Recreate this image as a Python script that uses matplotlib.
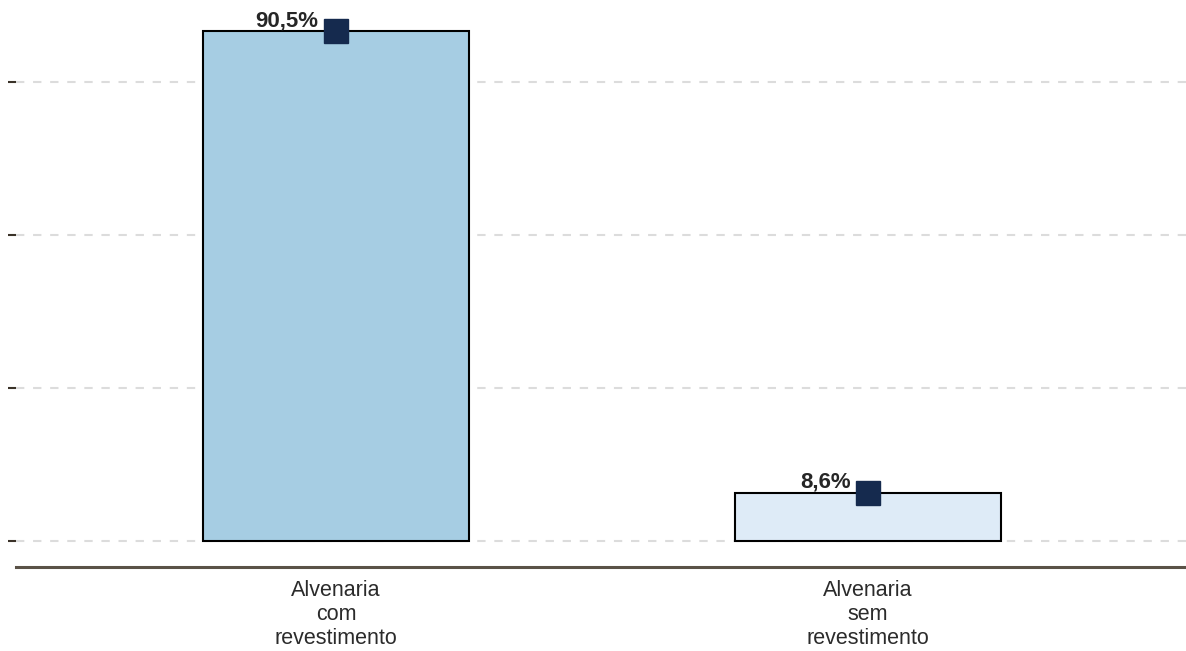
import matplotlib.pyplot as plt

plt.rcParams['font.family'] = ['Liberation Sans', 'DejaVu Sans']

# Data
categories = ['Alvenaria\ncom\nrevestimento', 'Alvenaria\nsem\nrevestimento']
values = [90.5, 8.6]
value_labels = ['90,5%', '8,6%']
bar_colors = ['#a6cde3', '#deebf7']

fig = plt.figure(figsize=(11.86, 6.51), dpi=100)
ax = fig.add_axes([16 / 1186, 1 - 567 / 651, 1 - 16 / 1186, 567 / 651])

x = list(range(len(categories)))
ax.bar(x, values, width=0.5, color=bar_colors, edgecolor='black', linewidth=1.5, zorder=3)
ax.plot(x, values, linestyle='none', marker='s', markersize=17,
        color='#152a4e', zorder=4)

for xi, v, lab in zip(x, values, value_labels):
    ax.annotate(lab, (xi, v), xytext=(-12.5, 3.5), textcoords='offset points',
                ha='right', va='baseline', fontsize=16, fontweight='bold',
                color='#262626', zorder=5)

# gridlines at fractions of the max
top = max(values)
ax.set_yticks([0, top * 0.3, top * 0.6, top * 0.9])
ax.set_yticklabels([])
ax.yaxis.grid(True, color='#dcdcdc', linestyle=(0, (4, 4.2)), linewidth=1.5, zorder=0)
ax.tick_params(axis='y', direction='out', length=6, width=1.5, color='#3a3228')
ax.set_xticks(x)
ax.set_xticklabels(categories, fontsize=15.5, color='#2b2b2b', linespacing=1.2)
ax.tick_params(axis='x', length=0, pad=9)

ax.set_xlim(-0.6015, 1.598)
ax.set_ylim(-4.6, 96.0)

for side in ['top', 'right', 'left']:
    ax.spines[side].set_visible(False)
ax.spines['bottom'].set_color('#5a5247')
ax.spines['bottom'].set_linewidth(2.2)

fig.savefig('out.png', dpi=100)
